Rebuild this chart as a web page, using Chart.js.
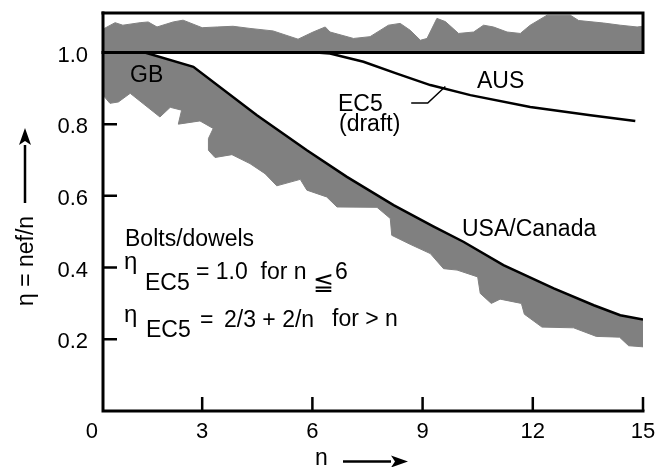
<!DOCTYPE html>
<html>
<head>
<meta charset="utf-8">
<script src="https://cdn.jsdelivr.net/npm/chart.js@4.4.1/dist/chart.umd.min.js"></script>
<style>
  html, body { margin: 0; padding: 0; background: #fff; }
  canvas { display: block; }
</style>
</head>
<body>
<canvas id="effChart" width="663" height="467"></canvas>
<script>
// tick values
const xTicks = [0, 3, 6, 9, 12, 15];
const yTicks = [0.2, 0.4, 0.6, 0.8, 1.0];

// GB / USA-Canada curve
const usaX = [0.3, 1.44, 2.76, 4.49, 5.85, 6.94, 8.21, 9.29, 10.11, 11.2, 12.57, 13.66, 14.38, 15.0];
const usaY = [1.0, 1.0, 0.96, 0.825, 0.727, 0.653, 0.574, 0.515, 0.472, 0.407, 0.342, 0.295, 0.267, 0.255];

// AUS / EC5 (draft) curve
const ausX = [6.1, 6.48, 7.39, 8.3, 9.21, 10.3, 11.93, 13.57, 14.79];
const ausY = [1.0, 0.997, 0.974, 0.941, 0.909, 0.881, 0.848, 0.825, 0.809];

// lower edge of the test scatter band under the curve
const lowX = [0.3, 0.49, 0.72, 1.04, 1.85, 2.13, 2.44, 2.35, 2.94, 3.3, 3.17, 3.17, 3.35, 3.81, 4.3, 4.71, 5.03, 5.67, 5.85, 6.39,
  6.67, 7.76, 8.12, 8.16, 8.66, 9.21, 9.57, 9.94, 10.5, 10.57, 10.87, 11.11, 11.69, 11.77, 12.25, 13.11, 13.73, 14.36, 14.61, 15.0];
const lowY = [0.881, 0.858, 0.862, 0.886, 0.82, 0.847, 0.839, 0.8, 0.809, 0.788, 0.76, 0.727, 0.707, 0.715, 0.69, 0.662, 0.628, 0.646, 0.616, 0.597,
  0.569, 0.568, 0.537, 0.49, 0.465, 0.439, 0.397, 0.393, 0.374, 0.328, 0.3, 0.312, 0.3, 0.27, 0.234, 0.232, 0.208, 0.206, 0.182, 0.179];

// upper edge of the band above eta = 1
const upX = [0.3, 0.63, 0.84, 1.31, 1.53, 1.77, 2.21, 2.48, 3.0, 3.41, 3.84, 4.3, 4.93, 5.61, 6.02, 6.35, 6.48, 7.12, 7.57, 8.07,
  8.39, 8.66, 8.94, 9.12, 9.39, 9.62, 9.98, 10.39, 10.66, 10.93, 11.3, 11.66, 11.93, 12.39, 13.02, 13.25, 13.93, 14.38, 14.84, 15.0];
const upY = [1.065, 1.083, 1.076, 1.083, 1.085, 1.071, 1.085, 1.09, 1.069, 1.071, 1.073, 1.067, 1.06, 1.037, 1.057, 1.071, 1.057, 1.039, 1.044, 1.076,
  1.081, 1.062, 1.034, 1.039, 1.095, 1.086, 1.053, 1.057, 1.076, 1.071, 1.057, 1.053, 1.076, 1.104, 1.104, 1.089, 1.082, 1.076, 1.071, 1.073];

// leader from the EC5 label to its curve
const leaderX = [8.69, 9.14, 9.62];
const leaderY = [0.859, 0.859, 0.905];

const pts = (xs, ys) => xs.map((v, i) => ({x: v, y: ys[i]}));

// closed outline: curve left->right, then lower edge back right->left
const lowerShape = pts(usaX, usaY).concat(pts(lowX, lowY).reverse());

const FONT = "'Liberation Sans', Arial, Helvetica, sans-serif";
Chart.defaults.font.family = FONT;
Chart.defaults.color = '#000';

const GREY = '#808080';

const frame = {
  id: 'frame',
  afterDatasetsDraw(chart) {
    const {ctx, chartArea: a, scales: {x, y}} = chart;
    const y1 = y.getPixelForValue(1.0);
    ctx.save();
    ctx.strokeStyle = '#000';
    ctx.lineWidth = 3;
    ctx.lineCap = 'square';
    ctx.beginPath();
    ctx.moveTo(a.left, a.top);
    ctx.lineTo(a.left, a.bottom);
    ctx.lineTo(a.right, a.bottom);
    ctx.stroke();
    ctx.beginPath();
    ctx.moveTo(a.left, a.top);
    ctx.lineTo(a.right, a.top);
    ctx.lineTo(a.right, y1);
    ctx.lineTo(a.left, y1);
    ctx.stroke();

    // ticks point inward
    ctx.lineWidth = 2.5;
    ctx.lineCap = 'butt';
    ctx.beginPath();
    xTicks.filter(v => v > 0).forEach(v => {
      const px = x.getPixelForValue(v);
      ctx.moveTo(px, a.bottom);
      ctx.lineTo(px, a.bottom - 14);
    });
    yTicks.forEach(v => {
      const py = y.getPixelForValue(v);
      ctx.moveTo(a.left, py);
      ctx.lineTo(a.left + 14, py);
    });
    ctx.stroke();
    ctx.restore();
  }
};

function put(ctx, text, x, y, size) {
  ctx.font = size + 'px ' + FONT;
  ctx.fillText(text, x, y);
}

function arrow(ctx, x0, y0, x1, y1) {
  const ang = Math.atan2(y1 - y0, x1 - x0);
  const len = 17, half = 6;
  const bx = x1 - len * Math.cos(ang), by = y1 - len * Math.sin(ang);
  ctx.beginPath();
  ctx.moveTo(x0, y0);
  ctx.lineTo(bx, by);
  ctx.lineWidth = 2.5;
  ctx.stroke();
  ctx.beginPath();
  ctx.moveTo(x1, y1);
  ctx.lineTo(bx - half * Math.sin(ang), by + half * Math.cos(ang));
  ctx.lineTo(bx + 4 * Math.cos(ang), by + 4 * Math.sin(ang));
  ctx.lineTo(bx + half * Math.sin(ang), by - half * Math.cos(ang));
  ctx.closePath();
  ctx.fill();
}

const notes = {
  id: 'notes',
  afterDraw(chart) {
    const ctx = chart.ctx;
    ctx.save();
    ctx.fillStyle = '#000';
    ctx.strokeStyle = '#000';
    ctx.textAlign = 'left';
    ctx.textBaseline = 'alphabetic';

    put(ctx, 'GB', 130, 82, 23);
    put(ctx, 'AUS', 477, 88, 23);
    put(ctx, 'EC5', 338, 111, 23);
    put(ctx, '(draft)', 339, 131, 23);
    put(ctx, 'USA/Canada', 462, 236, 23);

    put(ctx, 'Bolts/dowels', 125, 246, 23);
    put(ctx, '\u03b7', 124, 269, 24);
    put(ctx, 'EC5', 145, 290, 23);
    put(ctx, '= 1.0  for n', 196, 279, 23);
    put(ctx, '\u2266', 313, 290, 25);
    put(ctx, '6', 335, 279, 23);

    put(ctx, '\u03b7', 124, 322, 24);
    put(ctx, 'EC5', 146, 337, 23);
    put(ctx, '=', 200, 327, 23);
    put(ctx, '2/3 + 2/n', 224, 327, 23);
    put(ctx, 'for > n', 332, 326, 23);

    // axis titles with arrows
    put(ctx, 'n', 315, 465, 23);
    arrow(ctx, 343, 461.5, 408, 461.5);

    ctx.save();
    ctx.translate(33, 306);
    ctx.rotate(-Math.PI / 2);
    put(ctx, '\u03b7 = nef/n', 0, 0, 23);
    ctx.restore();
    arrow(ctx, 25, 203, 25, 128);

    ctx.restore();
  }
};

new Chart(document.getElementById('effChart'), {
  type: 'line',
  data: {
    datasets: [
      { data: pts(usaX, usaY), borderColor: '#000', borderWidth: 2.5, fill: false, order: 1 },
      { data: pts(ausX, ausY), borderColor: '#000', borderWidth: 2.5, fill: false, order: 1 },
      { data: pts(leaderX, leaderY), borderColor: '#000', borderWidth: 1.5, fill: false, order: 1 },
      { data: lowerShape, borderColor: GREY, borderWidth: 1, backgroundColor: GREY, fill: 'shape', order: 3 },
      { data: pts(upX, upY), borderColor: GREY, borderWidth: 1, backgroundColor: GREY, fill: {value: 1.0}, order: 3 }
    ]
  },
  options: {
    responsive: false,
    animation: false,
    layout: { padding: { top: 13, right: 20, left: 0, bottom: 0 } },
    plugins: { legend: { display: false }, tooltip: { enabled: false } },
    elements: { point: { radius: 0 }, line: { tension: 0 } },
    scales: {
      x: {
        type: 'linear', min: 0.3, max: 15,
        grid: { display: false, drawTicks: false },
        border: { display: false },
        afterFit: s => { s.height = 56; s.paddingLeft = 0; s.paddingRight = 0; },
        afterBuildTicks: s => { s.ticks = xTicks.map(v => ({value: v})); },
        ticks: { padding: 8, autoSkip: false, maxRotation: 0, font: { size: 22 }, callback: v => String(v) }
      },
      y: {
        type: 'linear', min: 0, max: 1.11,
        grid: { display: false, drawTicks: false },
        border: { display: false },
        afterFit: s => { s.width = 103; s.paddingTop = 0; s.paddingBottom = 0; },
        afterBuildTicks: s => { s.ticks = yTicks.map(v => ({value: v})); },
        ticks: { padding: 15, labelOffset: 3, font: { size: 22 }, callback: v => v.toFixed(1) }
      }
    }
  },
  plugins: [frame, notes]
});
</script>
</body>
</html>
